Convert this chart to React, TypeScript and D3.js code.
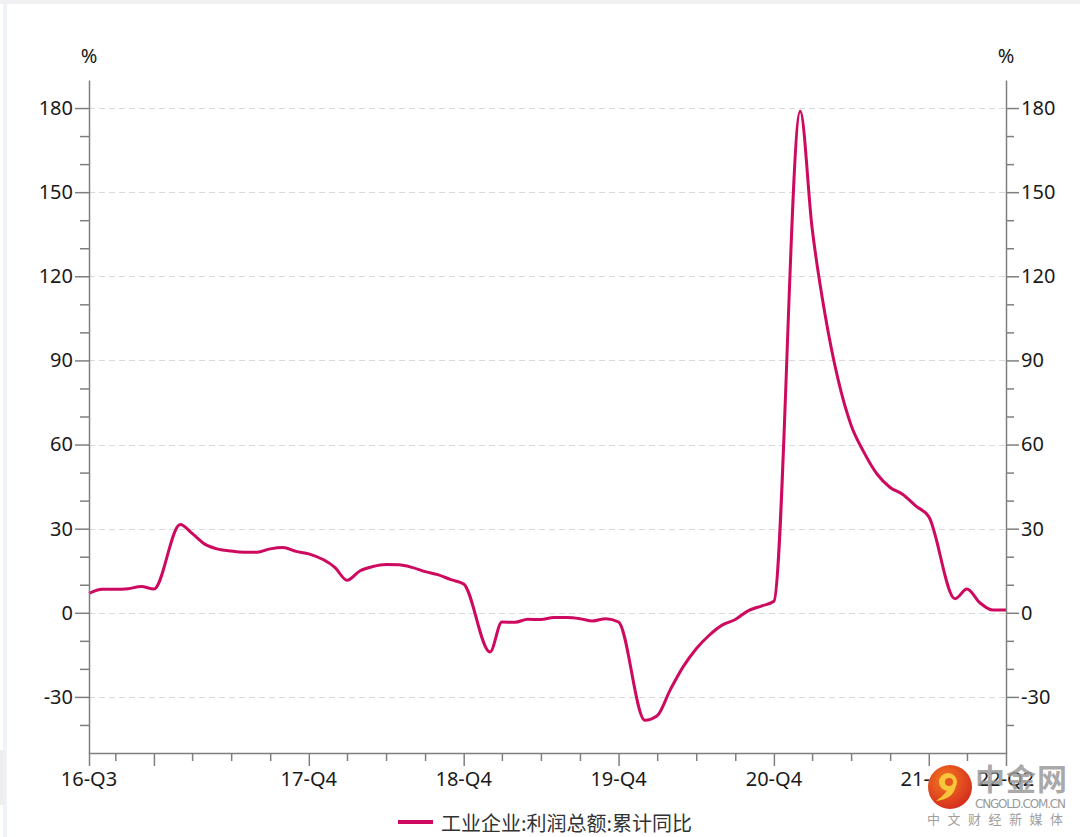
import { useEffect, useMemo, useRef } from 'react'
import * as d3 from 'd3'

const WIDTH = 1080
const HEIGHT = 837
const MARGIN = { top: 80, right: 74, bottom: 84, left: 89 }
const LINE_COLOR = '#cd0a5f'
const AXIS_COLOR = '#7f7f7f'
const FONT = "'Noto Sans', 'Noto Sans CJK SC', sans-serif"
const CJK_FONT = "'Noto Sans CJK SC', 'Noto Sans', sans-serif"

// monthly data, Jan is merged into Feb (Jan-Feb cumulative)
const MONTHS = [
  '2016-07', '2016-08', '2016-09', '2016-10', '2016-11', '2016-12',
  '2017-02', '2017-03', '2017-04', '2017-05', '2017-06', '2017-07', '2017-08', '2017-09', '2017-10', '2017-11', '2017-12',
  '2018-02', '2018-03', '2018-04', '2018-05', '2018-06', '2018-07', '2018-08', '2018-09', '2018-10', '2018-11', '2018-12',
  '2019-02', '2019-03', '2019-04', '2019-05', '2019-06', '2019-07', '2019-08', '2019-09', '2019-10', '2019-11', '2019-12',
  '2020-02', '2020-03', '2020-04', '2020-05', '2020-06', '2020-07', '2020-08', '2020-09', '2020-10', '2020-11', '2020-12',
  '2021-02', '2021-03', '2021-04', '2021-05', '2021-06', '2021-07', '2021-08', '2021-09', '2021-10', '2021-11', '2021-12',
  '2022-02', '2022-03', '2022-04', '2022-05', '2022-06',
]
const PROFIT_YOY = [
  6.9, 8.4, 8.4, 8.6, 9.4, 8.5,
  31.5, 28.3, 24.4, 22.7, 22.0, 21.6, 21.6, 22.8, 23.3, 21.9, 21.0,
  16.1, 11.6, 15.0, 16.5, 17.2, 17.1, 16.2, 14.7, 13.6, 11.8, 10.3,
  -14.0, -3.3, -3.4, -2.3, -2.4, -1.7, -1.7, -2.1, -2.9, -2.1, -3.3,
  -38.3, -36.7, -27.4, -19.3, -12.8, -8.1, -4.4, -2.4, 0.7, 2.4, 4.1,
  178.9, 137.3, 106.0, 83.4, 66.9, 57.3, 49.5, 44.7, 42.2, 38.0, 34.3,
  5.0, 8.5, 3.5, 1.0, 1.0,
]

const Y_DOMAIN = [-50, 190]
const Y_MAJOR = [-30, 0, 30, 60, 90, 120, 150, 180]
const Y_MINOR = [-40, -20, -10, 10, 20, 40, 50, 70, 80, 100, 110, 130, 140, 160, 170]

const X_START = '2016-07'
const X_END = '2022-06'
const X_MAJOR = ['2016-07', '2016-12', '2017-12', '2018-12', '2019-12', '2020-12', '2021-12', '2022-06']
const X_LABEL_MONTHS = ['2016-07', '2017-12', '2018-12', '2019-12', '2020-12', '2021-12', '2022-06']
const X_LABELS = ['16-Q3', '17-Q4', '18-Q4', '19-Q4', '20-Q4', '21-Q4', '22-Q2']

const LEGEND_LABEL = '工业企业:利润总额:累计同比'

const parse = d3.timeParse('%Y-%m')

export default function App() {
  const axesRef = useRef<SVGGElement>(null)

  const data = useMemo(
    () => MONTHS.map((m, i) => ({ date: parse(m) as Date, value: PROFIT_YOY[i] })),
    []
  )

  const xScale = useMemo(
    () =>
      d3
        .scaleTime()
        .domain([parse(X_START) as Date, parse(X_END) as Date])
        .range([MARGIN.left, WIDTH - MARGIN.right]),
    []
  )

  const yScale = useMemo(
    () => d3.scaleLinear().domain(Y_DOMAIN).range([HEIGHT - MARGIN.bottom, MARGIN.top]),
    []
  )

  useEffect(() => {
    const svgElement = d3.select(axesRef.current)
    svgElement.selectAll('*').remove()
    const x0 = MARGIN.left
    const x1 = WIDTH - MARGIN.right
    const yb = HEIGHT - MARGIN.bottom
    const fmt = (d: d3.NumberValue) => String(d) // plain hyphen like the original

    // left axis
    const left = svgElement.append('g').attr('transform', `translate(${x0},0)`)
    left.call(
      d3.axisLeft(yScale).tickValues(Y_MAJOR).tickSize(14).tickPadding(2).tickSizeOuter(0).tickFormat(fmt)
    )
    left
      .append('g')
      .call(d3.axisLeft(yScale).tickValues(Y_MINOR).tickSize(9).tickFormat(() => ''))
      .select('.domain')
      .remove()

    // right axis
    const right = svgElement.append('g').attr('transform', `translate(${x1},0)`)
    right.call(
      d3.axisRight(yScale).tickValues(Y_MAJOR).tickSize(13).tickPadding(2).tickSizeOuter(0).tickFormat(fmt)
    )
    right
      .append('g')
      .call(d3.axisRight(yScale).tickValues(Y_MINOR).tickSize(8).tickFormat(() => ''))
      .select('.domain')
      .remove()

    // bottom axis
    const minorMonths = d3
      .timeMonth.range(parse(X_START) as Date, parse(X_END) as Date)
      .filter((d) => d.getMonth() % 3 === 2 && d.getMonth() !== 11)
    const bottom = svgElement.append('g').attr('transform', `translate(0,${yb})`)
    bottom.call(
      d3
        .axisBottom(xScale)
        .tickValues(X_MAJOR.map((m) => parse(m) as Date))
        .tickSize(13)
        .tickSizeOuter(0)
        .tickFormat(() => '')
    )
    bottom
      .append('g')
      .call(d3.axisBottom(xScale).tickValues(minorMonths).tickSize(8).tickFormat(() => ''))
      .select('.domain')
      .remove()

    X_LABEL_MONTHS.forEach((m, i) => {
      bottom
        .append('text')
        .attr('x', xScale(parse(m) as Date))
        .attr('y', 33)
        .attr('text-anchor', 'middle')
        .text(X_LABELS[i])
    })

    svgElement.selectAll('.domain, line').attr('stroke', AXIS_COLOR).attr('stroke-width', 1.5)
    svgElement
      .selectAll('text')
      .attr('font-size', 20)
      .attr('font-family', FONT)
      .attr('fill', '#1a1a1a')
  }, [xScale, yScale])

  const linePath = d3
    .line<{ date: Date; value: number }>()
    .x((d) => xScale(d.date))
    .y((d) => yScale(d.value))
    .curve(d3.curveMonotoneX)(data)

  const grid = Y_MAJOR.map((v) => (
    <line
      key={v}
      x1={MARGIN.left}
      x2={WIDTH - MARGIN.right}
      y1={Math.round(yScale(v)) + 0.5}
      y2={Math.round(yScale(v)) + 0.5}
      stroke="#d9d9d9"
      strokeDasharray="6,4"
    />
  ))

  return (
    <svg
      width={WIDTH}
      height={HEIGHT}
      style={{ position: 'fixed', left: 0, top: 0, background: 'white' }}
    >
      <rect width="100%" height="100%" fill="white" />
      {/* page frame bits */}
      <rect x={0} y={0} width={WIDTH} height={4} fill="#f0f0f0" />
      <rect x={3} y={4} width={4} height={HEIGHT} fill="#eef2f9" />
      <rect x={0} y={750} width={5} height={55} fill="#eeeeee" />

      {grid}

      <path d={linePath ?? ''} fill="none" stroke={LINE_COLOR} strokeWidth={3} strokeLinejoin="round" />

      <g ref={axesRef} />

      <text x={MARGIN.left} y={55} textAnchor="middle" dominantBaseline="central" fontSize={20} fontFamily={FONT} fill="#1a1a1a">
        %
      </text>
      <text x={WIDTH - MARGIN.right} y={55} textAnchor="middle" dominantBaseline="central" fontSize={20} fontFamily={FONT} fill="#1a1a1a">
        %
      </text>

      {/* legend */}
      <line x1={398} x2={433} y1={822} y2={822} stroke={LINE_COLOR} strokeWidth={4} />
      <text x={441} y={822} dominantBaseline="central" fontSize={20} fontFamily={CJK_FONT} fill="#333">
        {LEGEND_LABEL}
      </text>

      {/* watermark */}
      <defs>
        <radialGradient id="wm" cx="40%" cy="35%" r="70%">
          <stop offset="0%" stopColor="#f47a20" />
          <stop offset="100%" stopColor="#d32a1e" />
        </radialGradient>
      </defs>
      <g>
        <circle cx={950} cy={787} r={22} fill="url(#wm)" />
        <circle cx={948} cy={782} r={9} fill="#f8c63a" />
        <circle cx={949} cy={782} r={4} fill="#e8561f" />
        <path d="M956,785 Q954,799 936,801 Q947,793 948,788 Z" fill="#f8c63a" />
        <text x={975} y={790} fontSize={30} fontWeight="bold" fontFamily={CJK_FONT} fill="#9a9a9a" fillOpacity={0.85} textLength={92}>
          中金网
        </text>
        <text x={975} y={808} fontSize={12} fontFamily="'DejaVu Sans', sans-serif" fill="#9a9a9a" textLength={91}>
          CNGOLD.COM.CN
        </text>
        <text x={927} y={824} fontSize={13} fontFamily={CJK_FONT} fill="#a0a0a0" textLength={136}>
          中文财经新媒体
        </text>
      </g>
    </svg>
  )
}
